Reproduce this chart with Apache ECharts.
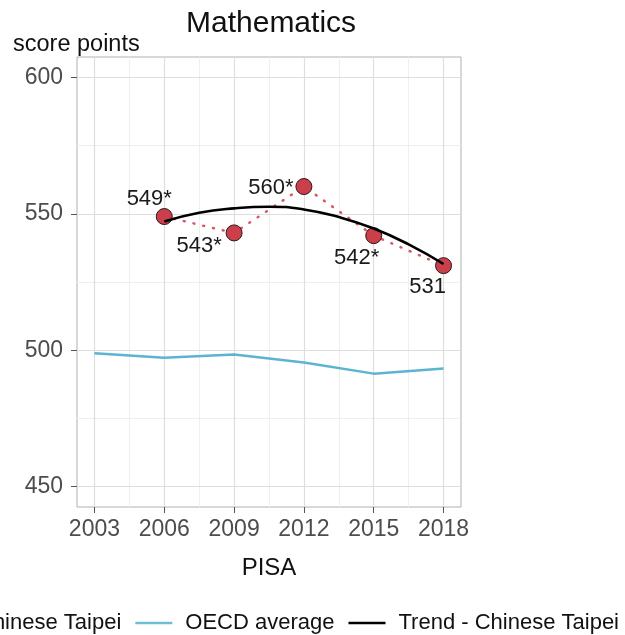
<!DOCTYPE html>
<html>
<head>
<meta charset="utf-8">
<script src="https://cdn.jsdelivr.net/npm/echarts@6/dist/echarts.min.js"></script>
<style>
  html, body { margin: 0; padding: 0; background: #fff; }
  #chart { width: 625px; height: 635px; }
</style>
</head>
<body>
<div id="chart"></div>
<script>
// PISA mathematics scores, Chinese Taipei vs OECD average
const years = [2006, 2009, 2012, 2015, 2018];
const taipeiScores = [549, 543, 560, 542, 531];
const taipeiLabels = ['549*', '543*', '560*', '542*', '531'];

const oecdYears = [2003, 2006, 2009, 2012, 2015, 2018];
const oecdScores = [498.9, 497.2, 498.4, 495.5, 491.4, 493.3];

// fitted trend curve for Chinese Taipei, sampled along the survey span
const trendYears = [2006, 2007.5, 2009, 2010.5, 2012, 2013.5, 2015, 2016.5, 2018];
const trendScores = [547.2, 550.4, 552.0, 552.6, 551.6, 548.8, 544.6, 538.8, 531.6];

const xTicks = [2003, 2006, 2009, 2012, 2015, 2018];
const xMinor = [2004.5, 2007.5, 2010.5, 2013.5, 2016.5];
const yTicks = [450, 500, 550, 600];
const yMinor = [475, 525, 575];

// label placement around each point (dx, dy)
const labelOffsets = [[-15, -18], [-35, 13], [-33, 1], [-17, 22], [-16, 21]];

const FONT = 'Liberation Sans, Arial, sans-serif';

const minorStyle = { color: '#efefef', width: 1, type: 'solid' };
const majorStyle = { color: '#dedede', width: 1.2, type: 'solid' };
const gridLines = []
  .concat(xMinor.map(v => ({ xAxis: v, lineStyle: minorStyle })))
  .concat(yMinor.map(v => ({ yAxis: v, lineStyle: minorStyle })))
  .concat(xTicks.map(v => ({ xAxis: v, lineStyle: majorStyle })))
  .concat(yTicks.map(v => ({ yAxis: v, lineStyle: majorStyle })));

const lineIcon = 'path://M0,0 L40,0 L40,2.6 L0,2.6 Z';

const chart = echarts.init(document.getElementById('chart'), null, { renderer: 'canvas' });

chart.setOption({
  animation: false,
  backgroundColor: '#ffffff',
  title: [
    { text: 'Mathematics', left: 181, top: 4,
      textStyle: { fontFamily: FONT, fontSize: 30, fontWeight: 'normal', color: '#111' } },
    { text: 'score points', left: 8, top: 28,
      textStyle: { fontFamily: FONT, fontSize: 23.5, fontWeight: 'normal', color: '#111' } }
  ],
  grid: {
    left: 77, right: 164, top: 57, bottom: 128,
    show: true, borderColor: '#b0b0b0', borderWidth: 1, backgroundColor: 'transparent'
  },
  legend: {
    left: -79, top: 607, width: 760,
    itemWidth: 37, itemHeight: 3, itemGap: 14,
    textStyle: { fontFamily: FONT, fontSize: 22, color: '#111', padding: [0, 0, 0, 8] },
    data: [
      { name: 'Chinese Taipei', icon: lineIcon },
      { name: 'OECD average', icon: lineIcon },
      { name: 'Trend - Chinese Taipei', icon: lineIcon }
    ]
  },
  xAxis: {
    type: 'value', min: 2002.25, max: 2018.75,
    name: 'PISA', nameLocation: 'middle', nameGap: 49,
    nameTextStyle: { fontFamily: FONT, fontSize: 24, color: '#111' },
    axisLine: { show: false },
    axisTick: { show: true, customValues: xTicks, length: 6, lineStyle: { color: '#555' } },
    axisLabel: { customValues: xTicks, margin: 11, formatter: v => String(v),
      fontFamily: FONT, fontSize: 23, color: '#4d4d4d' },
    splitLine: { show: false }
  },
  yAxis: {
    type: 'value', min: 442.5, max: 607.5,
    axisLine: { show: false },
    axisTick: { show: true, customValues: yTicks, length: 6, lineStyle: { color: '#555' } },
    axisLabel: { customValues: yTicks, margin: 14, formatter: v => String(v),
      fontFamily: FONT, fontSize: 23, color: '#4d4d4d' },
    splitLine: { show: false }
  },
  series: [
    {
      name: 'grid',
      type: 'line',
      data: [],
      silent: true,
      z: 0,
      markLine: { silent: true, z: 0, symbol: 'none', label: { show: false }, animation: false, data: gridLines }
    },
    {
      name: 'OECD average',
      type: 'line',
      data: oecdYears.map((y, i) => [y, oecdScores[i]]),
      symbol: 'none',
      lineStyle: { color: '#5cb5d0', width: 2.5 },
      itemStyle: { color: '#6fbdd4' },
      z: 3
    },
    {
      name: 'Chinese Taipei',
      type: 'line',
      data: years.map((y, i) => ({
        value: [y, taipeiScores[i]],
        label: {
          show: true,
          formatter: taipeiLabels[i],
          position: 'inside',
          offset: labelOffsets[i],
          fontFamily: FONT, fontSize: 22, color: '#1a1a1a',
          textBorderWidth: 0, textBorderColor: 'transparent'
        }
      })),
      symbol: 'circle',
      symbolSize: 16,
      showAllSymbol: true,
      lineStyle: { color: '#d65a66', width: 2.5, type: [1, 9], cap: 'round' },
      itemStyle: { color: '#cb3f4b', borderColor: '#2a1a1a', borderWidth: 1, opacity: 1 },
      z: 4
    },
    {
      name: 'Trend - Chinese Taipei',
      type: 'line',
      data: trendYears.map((y, i) => [y, trendScores[i]]),
      smooth: true,
      symbol: 'none',
      lineStyle: { color: '#000', width: 2.6 },
      itemStyle: { color: '#000' },
      z: 5
    }
  ]
});
</script>
</body>
</html>
